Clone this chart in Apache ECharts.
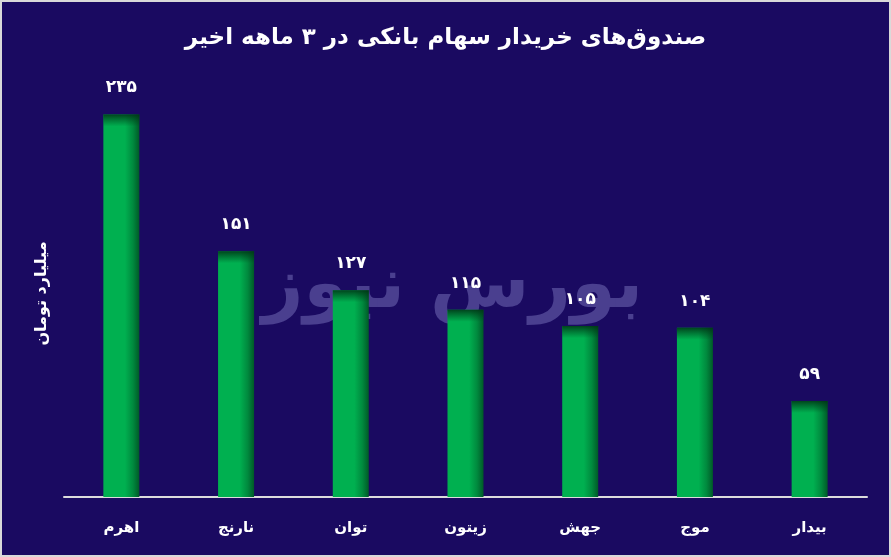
<!DOCTYPE html>
<html><head><meta charset="utf-8">
<script src="https://cdn.jsdelivr.net/npm/echarts@6/dist/echarts.min.js"></script>
<style>
html,body{margin:0;padding:0;background:#d9d9d9;}
#c{position:absolute;left:2px;top:2px;width:887px;height:553px;}
</style></head><body>
<div id="c"></div>
<script>
const titleText = 'صندوق‌های خریدار سهام بانکی در ۳ ماهه اخیر';
const yAxisName = 'میلیارد تومان';
const watermarkText = 'بورس نیوز';
const categories = ['اهرم', 'نارنج', 'توان', 'زیتون', 'جهش', 'موج', 'بیدار'];
const values = [235, 151, 127, 115, 105, 104, 59];

const faDigits = '۰۱۲۳۴۵۶۷۸۹';
function toFa(n){ return String(n).replace(/\d/g, d => faDigits[d]); }

const FONT = '"DejaVu Sans", sans-serif';
const chart = echarts.init(document.getElementById('c'));
const yMax = 250;

chart.setOption({
  backgroundColor: '#1a0a61',
  animation: false,
  title: {
    text: titleText, left: 'center', top: 20,
    textStyle: { color: '#ffffff', fontSize: 23, fontWeight: 'bold', fontFamily: FONT }
  },
  graphic: [{
    type: 'text', left: 260, top: 250, z: 0, silent: true,
    style: { text: watermarkText, fill: '#4a3f8f', font: 'bold 72px "DejaVu Sans", sans-serif' }
  }],
  grid: { left: 62, right: 22, top: 88, bottom: 58 },
  xAxis: {
    type: 'category', data: categories,
    axisLine: { lineStyle: { color: '#dcdcdc', width: 2 } },
    axisTick: { show: false },
    axisLabel: { color: '#ffffff', fontSize: 15, fontWeight: 'bold', fontFamily: FONT, margin: 24 }
  },
  yAxis: {
    type: 'value', min: 0, max: yMax,
    name: yAxisName, nameLocation: 'middle', nameRotate: 90, nameGap: 14,
    nameTextStyle: { color: '#ffffff', fontSize: 16, fontWeight: 'bold', fontFamily: FONT },
    axisLine: { show: false }, axisTick: { show: false }, axisLabel: { show: false },
    splitLine: { show: false }
  },
  series: [{
    type: 'bar', data: values, barWidth: 36, z: 3,
    itemStyle: {
      color: new echarts.graphic.LinearGradient(0, 0, 1, 0, [
        { offset: 0, color: '#00b050' },
        { offset: 0.6, color: '#00b050' },
        { offset: 0.82, color: '#008a3e' },
        { offset: 1, color: '#005a28' }
      ])
    },
    label: {
      show: true, position: 'top', distance: 18,
      color: '#ffffff', fontSize: 17, fontWeight: 'bold', fontFamily: FONT,
      formatter: p => toFa(p.value)
    }
  }, {
    type: 'bar', barGap: '-100%', barWidth: 36, z: 4, silent: true,
    data: values.map(v => {
      const s = Math.min(0.5, 12 / (v / yMax * 407));
      return {
        value: v,
        itemStyle: {
          color: new echarts.graphic.LinearGradient(0, 0, 0, 1, [
            { offset: 0, color: 'rgba(0,50,20,0.85)' },
            { offset: s, color: 'rgba(0,60,25,0)' },
            { offset: 1, color: 'rgba(0,60,25,0)' }
          ])
        }
      };
    })
  }]
});
</script>
</body></html>
